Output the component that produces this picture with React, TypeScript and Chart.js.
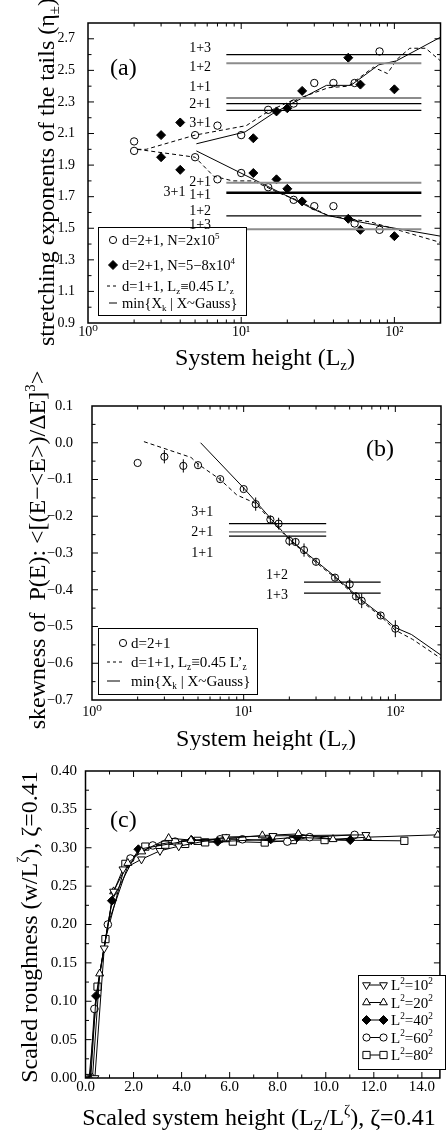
import React, { useEffect, useRef } from "react";
import { Chart, registerables } from "chart.js";

Chart.register(...registerables);

const FONT = '"Liberation Serif", "Times New Roman", "DejaVu Serif", serif';
const W = 446;

// ================= Panel (a) data =================
const aXTickValues = [1, 10, 100];
const aXTickLabels = ["10⁰", "10¹", "10²"];
const aYTickValues = [0.9, 1.1, 1.3, 1.5, 1.7, 1.9, 2.1, 2.3, 2.5, 2.7];
const aYTickLabels = ["0.9", "1.1", "1.3", "1.5", "1.7", "1.9", "2.1", "2.3", "2.5", "2.7"];

const aCircleX = [2, 5, 7, 10, 15, 22, 30, 40, 55, 80];
const aCircleUpper = [2.05, 2.09, 2.15, 2.09, 2.25, 2.29, 2.42, 2.42, 2.42, 2.62];
const aCircleLower = [1.99, 1.95, 1.81, 1.85, 1.76, 1.68, 1.64, 1.64, 1.53, 1.49];

const aDiamondX = [3, 4, 12, 17, 20, 25, 50, 60, 100];
const aDiamondUpper = [2.09, 2.17, 2.07, 2.24, 2.26, 2.37, 2.58, 2.41, 2.38];
const aDiamondLower = [1.95, 1.87, 1.85, 1.81, 1.75, 1.67, 1.56, 1.49, 1.45];

const aDashUpperX = [2.1, 2.4, 5, 10.8, 15, 20.5, 37, 50, 73, 90, 104, 126, 160, 200];
const aDashUpperY = [2.0, 2.0, 2.09, 2.15, 2.24, 2.3, 2.39, 2.4, 2.52, 2.48, 2.57, 2.64, 2.64, 2.56];
const aDashLowerX = [2.1, 5, 6.6, 8.8, 12, 18, 23, 37, 70, 200];
const aDashLowerY = [2.0, 1.95, 1.83, 1.8, 1.8, 1.72, 1.68, 1.58, 1.54, 1.41];

const aSolidUpperX = [5.1, 10.6, 16, 19.5, 36, 52, 79, 103, 200];
const aSolidUpperY = [2.035, 2.11, 2.225, 2.27, 2.405, 2.405, 2.535, 2.56, 2.71];
const aSolidLowerX = [5.1, 30.5, 37, 67, 200];
const aSolidLowerY = [1.99, 1.615, 1.58, 1.53, 1.45];

const aLevelValues = [2.6, 2.545, 2.325, 2.289, 2.247, 1.788, 1.725, 1.578, 1.494];
const aLevelGray = [false, true, true, false, false, true, false, false, true];
const aLevelFrom = 8;
const aLevelTo = 150;
const aLevelNames = ["1+3", "1+2", "1+1", "2+1", "3+1", "2+1", "1+1", "3+1", "1+2", "1+3"];
const aLevelNameX = [6.36, 6.36, 6.36, 6.36, 6.36, 6.36, 6.36, 4.33, 6.36, 6.36];
const aLevelNameY = [2.637, 2.521, 2.391, 2.285, 2.167, 1.788, 1.71, 1.73, 1.605, 1.521];

// ================= Panel (b) data =================
const bXTickValues = [1, 10, 100];
const bXTickLabels = ["10⁰", "10¹", "10²"];
const bYTickValues = [-0.7, -0.6, -0.5, -0.4, -0.3, -0.2, -0.1, 0.0, 0.1];
const bYTickLabels = ["−0.7", "−0.6", "−0.5", "−0.4", "−0.3", "−0.2", "−0.1", "0.0", "0.1"];

const bCircleX = [2, 3, 4, 5, 7, 10, 12, 15, 17, 20, 22, 25, 30, 40, 50, 55, 60, 80, 100];
const bCircleY = [-0.055, -0.038, -0.063, -0.061, -0.099, -0.126, -0.167, -0.209, -0.22, -0.267, -0.27, -0.292, -0.324, -0.367, -0.385, -0.418, -0.43, -0.47, -0.506];
const bCircleErr = [0, 0.018, 0.018, 0.006, 0.006, 0.006, 0.018, 0.011, 0.016, 0.014, 0.01, 0.018, 0.008, 0.008, 0.016, 0.011, 0.02, 0.008, 0.023];

const bDashX = [2.2, 4.5, 5, 7, 9, 12, 15, 20, 30, 40, 60, 80, 100, 130, 200];
const bDashY = [0.003, -0.04, -0.058, -0.1, -0.142, -0.165, -0.21, -0.264, -0.326, -0.367, -0.432, -0.472, -0.51, -0.535, -0.587];
const bSolidX = [5.2, 10, 15, 20, 30, 40, 60, 80, 100, 128, 200];
const bSolidY = [0.0, -0.123, -0.205, -0.262, -0.322, -0.364, -0.428, -0.468, -0.503, -0.522, -0.578];

const bLevelValues = [-0.22, -0.2425, -0.254, -0.379, -0.409];
const bLevelGray = [false, true, false, false, false];
const bLevelFrom = [8, 8, 8, 25, 25];
const bLevelTo = [35, 35, 35, 80, 80];
const bLevelNames = ["3+1", "2+1", "1+1", "1+2", "1+3"];
const bLevelNameX = [6.3, 6.3, 6.3, 19.6, 19.6];
const bLevelNameY = [-0.188, -0.2425, -0.3, -0.3605, -0.415];

// ================= Panel (c) data =================
const cXTickValues = [0, 2, 4, 6, 8, 10, 12, 14];
const cXTickLabels = ["0.0", "2.0", "4.0", "6.0", "8.0", "10.0", "12.0", "14.0"];
const cYTickValues = [0, 0.05, 0.1, 0.15, 0.2, 0.25, 0.3, 0.35, 0.4];
const cYTickLabels = ["0.00", "0.05", "0.10", "0.15", "0.20", "0.25", "0.30", "0.35", "0.40"];

const cL10X = [0.39, 0.78, 1.17, 1.56, 2.33, 3.1, 3.88, 5.84, 7.8, 11.67];
const cL10Y = [0, 0.169, 0.243, 0.272, 0.285, 0.296, 0.302, 0.314, 0.3155, 0.3168];
const cL20X = [0.29, 0.59, 1.17, 1.76, 2.34, 3.46, 4.39, 5.86, 7.36, 8.86, 10.3, 11.73, 14.66];
const cL20Y = [0, 0.136, 0.243, 0.28, 0.295, 0.3125, 0.31, 0.312, 0.316, 0.318, 0.311, 0.3138, 0.3168];
const cL40X = [0.22, 0.44, 1.1, 2.2, 4.41, 5.5, 7.71, 8.81, 11.02];
const cL40Y = [0, 0.107, 0.231, 0.298, 0.31, 0.308, 0.311, 0.3138, 0.31];
const cL60X = [0.19, 0.37, 0.93, 1.87, 2.8, 3.73, 5.6, 6.53, 8.4, 9.33, 11.2];
const cL60Y = [0, 0.09, 0.2, 0.286, 0.303, 0.308, 0.311, 0.311, 0.308, 0.3138, 0.3168];
const cL80X = [0.15, 0.5, 0.83, 1.66, 2.49, 3.32, 4.15, 4.66, 4.98, 6.13, 7.46, 8.63, 9.95, 13.27];
const cL80Y = [0, 0.119, 0.181, 0.279, 0.3015, 0.304, 0.305, 0.309, 0.307, 0.308, 0.3068, 0.31, 0.31, 0.309];

// ================= helpers =================
type Seg = { t: string; s?: "sub" | "sup" };
type Mark = "circle" | "diamond" | "triUp" | "triDown" | "square";
type TextItem = { segs: Seg[]; x: number; y: number; size: number; align: "left" | "center" | "right"; rotate?: boolean };
type LegendRow = { segs: Seg[]; cy: number; mark?: Mark; markXs?: number[]; line?: [number, number]; dash?: boolean };
type LegendCfg = { x: number; y: number; w: number; h: number; textX: number; size: number; rows: LegendRow[] };
type DecoCfg = {
  offsetY: number;
  xMajor: number[]; xMinor: number[]; yMajor: number[]; yMinor: number[];
  texts: TextItem[];
  levelNames: string[]; levelX: number[]; levelY: number[]; levelSize: number;
  legend: LegendCfg;
  errors?: { x: number[]; y: number[]; e: number[] };
};

const pts = (xs: number[], ys: number[]) => xs.map((x, i) => ({ x, y: ys[i] }));

function range(a: number, b: number, step: number): number[] {
  const out: number[] = [];
  for (let v = a; v <= b + 1e-9; v += step) out.push(Math.round(v * 1e6) / 1e6);
  return out;
}
function logMinor(max: number): number[] {
  const out: number[] = [];
  for (let d = 1; d <= 100; d *= 10) for (let m = 2; m <= 9; m++) if (m * d < max) out.push(m * d);
  return out;
}

function segFont(size: number, s?: string) {
  return `${s ? size * 0.62 : size}px ${FONT}`;
}
function drawRich(ctx: CanvasRenderingContext2D, it: TextItem) {
  ctx.save();
  ctx.translate(it.x, it.y);
  if (it.rotate) ctx.rotate(-Math.PI / 2);
  let w = 0;
  for (const g of it.segs) {
    ctx.font = segFont(it.size, g.s);
    w += ctx.measureText(g.t).width;
  }
  let cx = it.align === "center" ? -w / 2 : it.align === "right" ? -w : 0;
  ctx.textAlign = "left";
  ctx.textBaseline = "alphabetic";
  ctx.fillStyle = "#000";
  for (const g of it.segs) {
    ctx.font = segFont(it.size, g.s);
    const dy = g.s === "sub" ? it.size * 0.22 : g.s === "sup" ? -it.size * 0.42 : 0;
    ctx.fillText(g.t, cx, dy);
    cx += ctx.measureText(g.t).width;
  }
  ctx.restore();
}

function drawMark(ctx: CanvasRenderingContext2D, kind: Mark, x: number, y: number) {
  ctx.save();
  ctx.lineWidth = 1;
  ctx.strokeStyle = "#000";
  ctx.fillStyle = kind === "diamond" ? "#000" : "#fff";
  ctx.beginPath();
  if (kind === "circle") ctx.arc(x, y, 3.6, 0, Math.PI * 2);
  else if (kind === "diamond") {
    const r = 4.5;
    ctx.moveTo(x, y - r); ctx.lineTo(x + r, y); ctx.lineTo(x, y + r); ctx.lineTo(x - r, y); ctx.closePath();
  } else if (kind === "triUp") {
    const r = 4.5;
    ctx.moveTo(x, y - r); ctx.lineTo(x + 0.866 * r, y + 0.5 * r); ctx.lineTo(x - 0.866 * r, y + 0.5 * r); ctx.closePath();
  } else if (kind === "triDown") {
    const r = 4.5;
    ctx.moveTo(x, y + r); ctx.lineTo(x + 0.866 * r, y - 0.5 * r); ctx.lineTo(x - 0.866 * r, y - 0.5 * r); ctx.closePath();
  } else {
    const s = 3.6;
    ctx.rect(x - s, y - s, 2 * s, 2 * s);
  }
  ctx.fill();
  ctx.stroke();
  ctx.restore();
}

function decoPlugin(cfg: DecoCfg) {
  return {
    id: "deco",
    beforeDatasetsDraw(chart: any) {
      if (!cfg.errors) return;
      const ctx: CanvasRenderingContext2D = chart.ctx;
      const xs = chart.scales.x, ys = chart.scales.y;
      ctx.save();
      ctx.strokeStyle = "#000";
      ctx.lineWidth = 1;
      ctx.beginPath();
      cfg.errors.x.forEach((xv, i) => {
        const e = cfg.errors!.e[i];
        if (!e) return;
        const px = xs.getPixelForValue(xv);
        ctx.moveTo(px, ys.getPixelForValue(cfg.errors!.y[i] - e));
        ctx.lineTo(px, ys.getPixelForValue(cfg.errors!.y[i] + e));
      });
      ctx.stroke();
      ctx.restore();
    },
    afterDraw(chart: any) {
      const ctx: CanvasRenderingContext2D = chart.ctx;
      const { left, right, top, bottom } = chart.chartArea;
      const xs = chart.scales.x, ys = chart.scales.y;
      ctx.save();
      ctx.strokeStyle = "#000";
      ctx.lineWidth = 1;
      ctx.beginPath();
      const tx = (vals: number[], len: number) =>
        vals.forEach((v) => {
          const p = xs.getPixelForValue(v);
          if (p <= left + 1 || p >= right - 1) return;
          ctx.moveTo(p, bottom); ctx.lineTo(p, bottom - len);
          ctx.moveTo(p, top); ctx.lineTo(p, top + len);
        });
      const ty = (vals: number[], len: number) =>
        vals.forEach((v) => {
          const p = ys.getPixelForValue(v);
          if (p <= top + 1 || p >= bottom - 1) return;
          ctx.moveTo(left, p); ctx.lineTo(left + len, p);
          ctx.moveTo(right, p); ctx.lineTo(right - len, p);
        });
      tx(cfg.xMajor, 6); tx(cfg.xMinor, 3.5);
      ty(cfg.yMajor, 6); ty(cfg.yMinor, 3.5);
      ctx.stroke();
      ctx.lineWidth = 1.5;
      ctx.strokeRect(left, top, right - left, bottom - top);

      const oy = cfg.offsetY;

      // legend
      const L = cfg.legend;
      ctx.fillStyle = "#fff";
      ctx.fillRect(L.x, L.y - oy, L.w, L.h);
      ctx.lineWidth = 1;
      ctx.strokeStyle = "#000";
      ctx.strokeRect(L.x + 0.5, L.y - oy + 0.5, L.w, L.h);
      L.rows.forEach((r) => {
        const cy = r.cy - oy;
        if (r.line) {
          ctx.save();
          ctx.lineWidth = 1;
          ctx.setLineDash(r.dash ? [3, 3] : []);
          ctx.beginPath();
          ctx.moveTo(r.line[0], cy); ctx.lineTo(r.line[1], cy);
          ctx.stroke();
          ctx.restore();
        }
        if (r.mark && r.markXs) r.markXs.forEach((mx) => drawMark(ctx, r.mark!, mx, cy));
        drawRich(ctx, { segs: r.segs, x: L.textX, y: cy + L.size * 0.34, size: L.size, align: "left" });
      });

      // level labels
      ctx.fillStyle = "#000";
      ctx.font = `${cfg.levelSize}px ${FONT}`;
      ctx.textAlign = "right";
      ctx.textBaseline = "middle";
      cfg.levelNames.forEach((n, i) => {
        ctx.fillText(n, xs.getPixelForValue(cfg.levelX[i]), ys.getPixelForValue(cfg.levelY[i]));
      });

      // texts (titles, panel letter)
      cfg.texts.forEach((t) => drawRich(ctx, { ...t, y: t.y - oy }));
      ctx.restore();
    },
  };
}

function axisCommon(tickValues: number[], tickLabels: string[], size: number, padding: number) {
  return {
    grid: { display: false, drawTicks: false },
    border: { display: false },
    afterBuildTicks: (s: any) => {
      s.ticks = tickValues.map((v) => ({ value: v }));
    },
    ticks: {
      autoSkip: false,
      maxRotation: 0,
      minRotation: 0,
      padding,
      color: "#000",
      font: { family: FONT, size },
      callback: (_v: any, i: number) => tickLabels[i],
    },
  };
}

function baseOptions(padTop: number) {
  return {
    responsive: false,
    animation: false,
    devicePixelRatio: 1,
    events: [],
    layout: { padding: { top: padTop, right: 1, left: 0, bottom: 0 } },
    plugins: { legend: { display: false }, tooltip: { enabled: false } },
  };
}

const lineDs = (xs: number[], ys: number[], dash: boolean, color = "#000", width = 1) => ({
  data: pts(xs, ys),
  showLine: true,
  borderColor: color,
  borderWidth: width,
  borderDash: dash ? [4, 3] : [],
  pointRadius: 0,
  fill: false,
});

const markDs = (xs: number[], ys: number[], style: string, radius: number, bg: string) => ({
  data: pts(xs, ys),
  showLine: false,
  pointStyle: style,
  pointRadius: radius,
  pointBackgroundColor: bg,
  pointBorderColor: "#000",
  pointBorderWidth: 1,
});

// ================= builders =================
function buildA() {
  const datasets: any[] = [];
  aLevelValues.forEach((v, i) =>
    datasets.push(lineDs([aLevelFrom, aLevelTo], [v, v], false, aLevelGray[i] ? "#8c8c8c" : "#000", aLevelGray[i] ? 2 : i === 6 ? 2.4 : 1.2))
  );
  datasets.push(lineDs(aDashUpperX, aDashUpperY, true));
  datasets.push(lineDs(aDashLowerX, aDashLowerY, true));
  datasets.push(lineDs(aSolidUpperX, aSolidUpperY, false));
  datasets.push(lineDs(aSolidLowerX, aSolidLowerY, false));
  datasets.push(markDs(aCircleX, aCircleUpper, "circle", 3.7, "rgba(0,0,0,0)"));
  datasets.push(markDs(aCircleX, aCircleLower, "circle", 3.7, "rgba(0,0,0,0)"));
  datasets.push(markDs(aDiamondX, aDiamondUpper, "rectRot", 4.5, "#000"));
  datasets.push(markDs(aDiamondX, aDiamondLower, "rectRot", 4.5, "#000"));

  const deco: DecoCfg = {
    offsetY: 0,
    xMajor: [1, 10, 100], xMinor: logMinor(200),
    yMajor: aYTickValues, yMinor: range(1.0, 2.8, 0.2),
    levelNames: aLevelNames, levelX: aLevelNameX, levelY: aLevelNameY, levelSize: 14,
    texts: [
      { segs: [{ t: "stretching exponents of the tails (η" }, { t: "±", s: "sub" }, { t: ")" }], x: 54, y: 172, size: 24, align: "center", rotate: true },
      { segs: [{ t: "System height (L" }, { t: "z", s: "sub" }, { t: ")" }], x: 265, y: 365, size: 24, align: "center" },
      { segs: [{ t: "(a)" }], x: 110, y: 75, size: 24, align: "left" },
    ],
    legend: {
      x: 98, y: 227, w: 148, h: 88, textX: 122, size: 14.5,
      rows: [
        { segs: [{ t: "d=2+1, N=2x10" }, { t: "5", s: "sup" }], cy: 240, mark: "circle", markXs: [113] },
        { segs: [{ t: "d=2+1, N=5−8x10" }, { t: "4", s: "sup" }], cy: 265, mark: "diamond", markXs: [113] },
        { segs: [{ t: "d=1+1, L" }, { t: "z", s: "sub" }, { t: "≡0.45 L’" }, { t: "z", s: "sub" }], cy: 286, line: [107, 118], dash: true },
        { segs: [{ t: "min{X" }, { t: "k", s: "sub" }, { t: " | X~Gauss}" }], cy: 303, line: [109, 117] },
      ],
    },
  };

  return {
    type: "scatter",
    data: { datasets },
    options: {
      ...baseOptions(23),
      scales: {
        x: { type: "logarithmic", min: 1, max: 200, ...axisCommon(aXTickValues, aXTickLabels, 14, 1), afterFit: (s: any) => { s.height = 52; } },
        y: { type: "linear", min: 0.9, max: 2.8, ...axisCommon(aYTickValues, aYTickLabels, 14, 13), afterFit: (s: any) => { s.width = 88; } },
      },
    },
    plugins: [decoPlugin(deco)],
  };
}

function buildB() {
  const datasets: any[] = [];
  bLevelValues.forEach((v, i) =>
    datasets.push(lineDs([bLevelFrom[i], bLevelTo[i]], [v, v], false, bLevelGray[i] ? "#8c8c8c" : "#000", bLevelGray[i] ? 1.6 : 1.2))
  );
  datasets.push(lineDs(bDashX, bDashY, true));
  datasets.push(lineDs(bSolidX, bSolidY, false));
  datasets.push(markDs(bCircleX, bCircleY, "circle", 3.6, "rgba(0,0,0,0)"));

  const deco: DecoCfg = {
    offsetY: 360,
    xMajor: [1, 10, 100], xMinor: logMinor(200),
    yMajor: bYTickValues, yMinor: range(-0.65, 0.05, 0.1),
    levelNames: bLevelNames, levelX: bLevelNameX, levelY: bLevelNameY, levelSize: 14,
    errors: { x: bCircleX, y: bCircleY, e: bCircleErr },
    texts: [
      { segs: [{ t: "skewness of  P(E): <[(E−<E>)/ΔE]" }, { t: "3", s: "sup" }, { t: ">" }], x: 45, y: 550, size: 24, align: "center", rotate: true },
      { segs: [{ t: "System height (L" }, { t: "z", s: "sub" }, { t: ")" }], x: 266, y: 746, size: 24, align: "center" },
      { segs: [{ t: "(b)" }], x: 366, y: 456, size: 24, align: "left" },
    ],
    legend: {
      x: 98, y: 628, w: 159, h: 66, textX: 131, size: 15,
      rows: [
        { segs: [{ t: "d=2+1" }], cy: 643, mark: "circle", markXs: [123] },
        { segs: [{ t: "d=1+1, L" }, { t: "z", s: "sub" }, { t: "≡0.45 L’" }, { t: "z", s: "sub" }], cy: 662, line: [107, 122], dash: true },
        { segs: [{ t: "min{X" }, { t: "k", s: "sub" }, { t: " | X~Gauss}" }], cy: 681, line: [107, 120] },
      ],
    },
  };

  return {
    type: "scatter",
    data: { datasets },
    options: {
      ...baseOptions(46),
      scales: {
        x: { type: "logarithmic", min: 1, max: 200, ...axisCommon(bXTickValues, bXTickLabels, 14, 4), afterFit: (s: any) => { s.height = 50; } },
        y: { type: "linear", min: -0.7, max: 0.1, ...axisCommon(bYTickValues, bYTickLabels, 14.5, 19), afterFit: (s: any) => { s.width = 92; } },
      },
    },
    plugins: [decoPlugin(deco)],
  };
}

function buildC() {
  const series = (xs: number[], ys: number[], style: string, radius: number, bg: string, rot = 0) => ({
    data: pts(xs, ys),
    showLine: true,
    borderColor: "#000",
    borderWidth: 1,
    fill: false,
    pointStyle: style,
    pointRotation: rot,
    pointRadius: radius,
    pointBackgroundColor: bg,
    pointBorderColor: "#000",
    pointBorderWidth: 1,
  });
  const datasets: any[] = [
    series(cL10X, cL10Y, "triangle", 4.6, "#fff", 180),
    series(cL20X, cL20Y, "triangle", 4.6, "#fff"),
    series(cL40X, cL40Y, "rectRot", 4.5, "#000"),
    series(cL60X, cL60Y, "circle", 3.8, "#fff"),
    series(cL80X, cL80Y, "rect", 5.1, "#fff"),
  ];

  const legendRow = (mark: Mark, n: string, cy: number): LegendRow => ({
    segs: [{ t: "L" }, { t: "2", s: "sup" }, { t: "=" + n }, { t: "2", s: "sup" }],
    cy, mark, markXs: [366.5, 383.5], line: [366.5, 383.5],
  });

  const deco: DecoCfg = {
    offsetY: 750,
    xMajor: cXTickValues, xMinor: range(1, 13, 2),
    yMajor: cYTickValues, yMinor: range(0.025, 0.375, 0.05),
    levelNames: [], levelX: [], levelY: [], levelSize: 14,
    texts: [
      { segs: [{ t: "Scaled roughness (w/L" }, { t: "ζ", s: "sup" }, { t: "), ζ=0.41" }], x: 37, y: 927, size: 24, align: "center", rotate: true },
      { segs: [{ t: "Scaled system height (L" }, { t: "Z", s: "sub" }, { t: "/L" }, { t: "ζ", s: "sup" }, { t: "), ζ=0.41" }], x: 259, y: 1125, size: 24, align: "center" },
      { segs: [{ t: "(c)" }], x: 110, y: 827, size: 24, align: "left" },
    ],
    legend: {
      x: 358, y: 975, w: 87, h: 94, textX: 391, size: 15,
      rows: [
        legendRow("triDown", "10", 985),
        legendRow("triUp", "20", 1002.5),
        legendRow("diamond", "40", 1020),
        legendRow("circle", "60", 1037.5),
        legendRow("square", "80", 1055),
      ],
    },
  };

  return {
    type: "scatter",
    data: { datasets },
    options: {
      ...baseOptions(21),
      scales: {
        x: { type: "linear", min: 0, max: 14.75, ...axisCommon(cXTickValues, cXTickLabels, 15, 0), afterFit: (s: any) => { s.height = 58; } },
        y: { type: "linear", min: 0, max: 0.4, ...axisCommon(cYTickValues, cYTickLabels, 15, 8.5), afterFit: (s: any) => { s.width = 85.5; } },
      },
    },
    plugins: [decoPlugin(deco)],
  };
}

function Panel({ top, height, build }: { top: number; height: number; build: () => any }) {
  const ref = useRef<HTMLCanvasElement>(null);
  useEffect(() => {
    const chart = new Chart(ref.current as HTMLCanvasElement, build());
    return () => chart.destroy();
  }, []);
  return (
    <canvas
      ref={ref}
      width={W}
      height={height}
      style={{ position: "absolute", left: 0, top, width: W, height, display: "block" }}
    />
  );
}

export default function App() {
  return (
    <div style={{ position: "absolute", left: 0, top: 0, width: W, height: 1136, background: "#fff", overflow: "hidden" }}>
      <Panel top={0} height={375} build={buildA} />
      <Panel top={360} height={390} build={buildB} />
      <Panel top={750} height={386} build={buildC} />
    </div>
  );
}
